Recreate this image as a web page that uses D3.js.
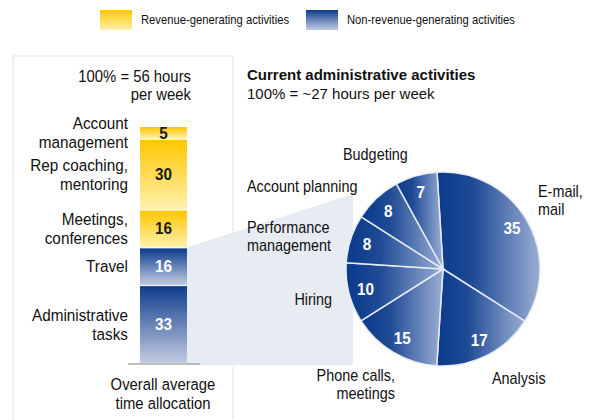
<!DOCTYPE html>
<html>
<head>
<meta charset="utf-8">
<script src="https://cdn.jsdelivr.net/npm/d3@7"></script>
<style>
  body { margin: 0; background: #fff; }
  svg text { font-family: "Liberation Sans", Arial, Helvetica, sans-serif; fill: #111; }
</style>
</head>
<body>
<div id="chart"></div>
<script>
// bar: overall average time allocation (% of 56 hours per week)
const barCategories = ["Account management", "Rep coaching, mentoring", "Meetings, conferences", "Travel", "Administrative tasks"];
const barValues = [5, 30, 16, 16, 33];
const barTypes = ["rev", "rev", "rev", "non", "non"];
const barLabelLines = [["Account", "management"], ["Rep coaching,", "mentoring"], ["Meetings,", "conferences"], ["Travel"], ["Administrative", "tasks"]];

// pie: current administrative activities (% of ~27 hours per week)
const pieCategories = ["E-mail, mail", "Analysis", "Phone calls, meetings", "Hiring", "Performance management", "Account planning", "Budgeting"];
const pieValues = [35, 17, 15, 10, 8, 8, 7];
const pieLabelLines = [["E-mail,", "mail"], ["Analysis"], ["Phone calls,", "meetings"], ["Hiring"], ["Performance", "management"], ["Account planning"], ["Budgeting"]];

const legendLabels = ["Revenue-generating activities", "Non-revenue-generating activities"];

const width = 596, height = 420;
const narrow = 0.9; // fake condensed type

const svg = d3.select("#chart").append("svg")
    .attr("width", width)
    .attr("height", height);

const defs = svg.append("defs");

// condensed text helper
function label(parent, x, y, str, size, anchor, opts = {}) {
    const g = parent.append("g")
        .attr("transform", `translate(${x},${y}) scale(${opts.sx || narrow},1)`);
    return g.append("text")
        .attr("text-anchor", anchor || "start")
        .style("font-size", size + "px")
        .style("font-weight", opts.bold ? "bold" : null)
        .style("fill", opts.fill || null)
        .text(str);
}

// vertical gradients for bars and legend
function vGrad(id, top, bottom) {
    const g = defs.append("linearGradient").attr("id", id)
        .attr("x1", 0).attr("y1", 0).attr("x2", 0).attr("y2", 1);
    g.append("stop").attr("offset", "0%").attr("stop-color", top);
    g.append("stop").attr("offset", "100%").attr("stop-color", bottom);
}
vGrad("gradRev", "#ffc600", "#fff1b0");
vGrad("gradNon", "#0d3c8c", "#c3cce2");

// horizontal gradient for pie slices
const pg = defs.append("linearGradient").attr("id", "gradPie")
    .attr("x1", 0).attr("y1", 0).attr("x2", 1).attr("y2", 0);
pg.append("stop").attr("offset", "0%").attr("stop-color", "#0a3a8b");
pg.append("stop").attr("offset", "35%").attr("stop-color", "#1f4a95");
pg.append("stop").attr("offset", "100%").attr("stop-color", "#9aaed4");

// legend
const legendX = [100, 306];
legendLabels.forEach((lbl, i) => {
    svg.append("rect")
        .attr("x", legendX[i]).attr("y", 10)
        .attr("width", 32).attr("height", 20)
        .attr("fill", i === 0 ? "url(#gradRev)" : "url(#gradNon)");
    label(svg, legendX[i] + 41, 24, lbl, 12.5, "start");
});

// left panel frame (dotted)
svg.append("path")
    .attr("d", "M13,420 L13,56 L233,56 L233,420")
    .attr("fill", "none")
    .attr("stroke", "#c8c8c8")
    .attr("stroke-dasharray", "1,1");

// bar scale
const barX = 140, barW = 47;
const y = d3.scaleLinear().domain([0, d3.sum(barValues)]).range([127, 363]);
const cum = [];
barValues.reduce((acc, v, i) => { cum[i] = acc; return acc + v; }, 0);

// connector shading from bar to pie
const shadeTop = y(cum[3]);
svg.append("path")
    .attr("d", `M${barX + barW},${shadeTop} L353,194 L353,${y(100) + 2} L${barX + barW},${y(100) + 2} Z`)
    .attr("fill", "#e7ecf3");

label(svg, 191, 82, "100% = 56 hours", 16.5, "end");
label(svg, 191, 100, "per week", 16.5, "end");

barValues.forEach((v, i) => {
    const y0 = y(cum[i]), y1 = y(cum[i] + v);
    svg.append("rect")
        .attr("x", barX).attr("y", y0 + (i > 0 ? 1 : 0))
        .attr("width", barW).attr("height", y1 - y0 - (i > 0 ? 1 : 0))
        .attr("fill", barTypes[i] === "rev" ? "url(#gradRev)" : "url(#gradNon)");
    const mid = (y0 + y1) / 2;
    label(svg, barX + barW / 2, mid + 6, v, 17, "middle",
        { bold: true, fill: barTypes[i] === "rev" ? "#1a1a1a" : "#fff" });
    const lines = barLabelLines[i];
    lines.forEach((ln, j) => {
        label(svg, 128, mid + 6 + (j - (lines.length - 1) / 2) * 19, ln, 17, "end");
    });
});

// baseline under bar
svg.append("line")
    .attr("x1", 128).attr("x2", 200)
    .attr("y1", y(100) + 1).attr("y2", y(100) + 1)
    .attr("stroke", "#aaa").attr("stroke-width", 1.5);

label(svg, 163, 390, "Overall average", 16.5, "middle");
label(svg, 163, 409, "time allocation", 16.5, "middle");

// pie title
label(svg, 247, 80, "Current administrative activities", 15, "start", { bold: true, sx: 1 });
label(svg, 247, 99, "100% = ~27 hours per week", 15, "start", { sx: 1 });

// pie
const cx = 443, cy = 269, r = 97;
const startA = -3.5 * Math.PI / 180;
const pie = d3.pie().sort(null).startAngle(startA).endAngle(startA + 2 * Math.PI);
const arcs = pie(pieValues);
const arc = d3.arc().innerRadius(0).outerRadius(r);
const labelArc = d3.arc().innerRadius(80).outerRadius(80);

const pieG = svg.append("g").attr("transform", `translate(${cx},${cy})`);
pieG.selectAll("path.slice")
    .data(arcs)
    .join("path")
    .attr("class", "slice")
    .attr("d", arc)
    .attr("fill", "url(#gradPie)")
    .attr("stroke", "#e6ebf4")
    .attr("stroke-width", 1.5);

arcs.forEach(d => {
    const [lx, ly] = labelArc.centroid(d);
    label(pieG, lx, ly + 6, d.data, 17, "middle", { bold: true, fill: "#fff" });
});

// outside category labels
const pieLabelPos = [
    { x: 538, y: 197, anchor: "start" },
    { x: 492, y: 384, anchor: "start" },
    { x: 395, y: 381, anchor: "end" },
    { x: 332, y: 305, anchor: "end" },
    { x: 247, y: 233, anchor: "start" },
    { x: 247, y: 192, anchor: "start" },
    { x: 343, y: 160, anchor: "start" }
];
pieLabelLines.forEach((lines, i) => {
    const p = pieLabelPos[i];
    lines.forEach((ln, j) => {
        label(svg, p.x, p.y + j * 18, ln, 16, p.anchor);
    });
});
</script>
</body>
</html>
